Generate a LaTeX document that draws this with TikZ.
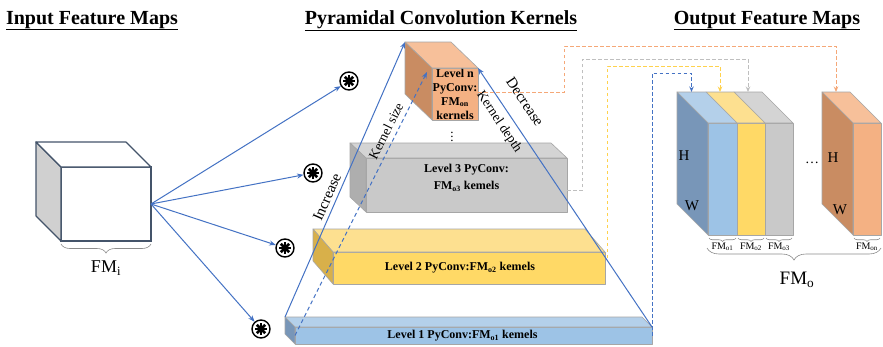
\documentclass[tikz,border=0pt]{standalone}
\usepackage{fontspec}
\setmainfont{Liberation Serif}
\usetikzlibrary{arrows.meta,decorations.pathreplacing,calc}

\definecolor{lineblue}{HTML}{4472C4}
\definecolor{cubeedge}{HTML}{44546A}
\definecolor{cubeside}{HTML}{D0D0D0}
\definecolor{orfront}{HTML}{F4B183}
\definecolor{ortop}{HTML}{F7C09A}
\definecolor{orside}{HTML}{C98C62}
\definecolor{grfront}{HTML}{C9C9C9}
\definecolor{grtop}{HTML}{D4D4D4}
\definecolor{grside}{HTML}{AEAEAE}
\definecolor{yefront}{HTML}{FFD966}
\definecolor{yetop}{HTML}{FDE090}
\definecolor{yeside}{HTML}{D8B04A}
\definecolor{blfront}{HTML}{9DC3E6}
\definecolor{bltop}{HTML}{B4D0EA}
\definecolor{blside}{HTML}{7896B8}
\definecolor{boxedge}{HTML}{A6A6A6}
\definecolor{dashor}{HTML}{F5A878}
\definecolor{dashgr}{HTML}{BFBFBF}
\definecolor{dashye}{HTML}{FFD24D}
\definecolor{bracegray}{HTML}{8C8C8C}

% top and left faces of a box whose front face is the node #2
\newcommand\slabtop[5][]{\filldraw[face,#1,fill=#5] (#2.north west) -- ++(-#3,-#4) -- ($(#2.north east)+(-#3,-#4)$) -- (#2.north east) -- cycle;}
\newcommand\slabside[5][]{\filldraw[face,#1,fill=#5] (#2.north west) -- ++(-#3,-#4) -- ($(#2.south west)+(-#3,-#4)$) -- (#2.south west) -- cycle;}

\tikzset{
  face/.style={draw=boxedge, line width=0.6pt, line join=round},
  front/.style={face, rectangle, inner sep=0pt, outer sep=0pt, anchor=north west,
    font=\fontsize{12}{14}\selectfont\bfseries, align=center},
  title/.style={font=\fontsize{20}{24}\selectfont\bfseries, anchor=base},
  feed/.style={draw=lineblue, line width=1pt, -{Stealth[length=6.5pt,width=5pt]}},
  route/.style={dash pattern=on 3.5pt off 2.5pt, line width=1pt, -{Stealth[length=5.5pt,width=4.5pt]}},
  slope/.style={font=\fontsize{15}{18}\selectfont, inner sep=1pt},
  slopesmall/.style={font=\fontsize{13.5}{15}\selectfont, inner sep=1pt},
  hw/.style={font=\fontsize{15}{18}\selectfont},
  fmsmall/.style={font=\fontsize{10}{12}\selectfont},
  gbrace/.style={draw=bracegray, line width=0.6pt, decorate},
  conv/.style={circle, draw, line width=1.4pt, minimum size=18pt, inner sep=0pt, fill=white,
    path picture={\foreach \a in {0,45,...,315}{\draw[line width=2.5pt] (path picture bounding box.center) -- ++(\a:6pt);}}},
}

\begin{document}
\begin{tikzpicture}[x=1pt,y=-1pt]
\useasboundingbox[fill=white] (0,0) rectangle (883,346);

% headings
\node[title] (t1) at (92,24) {\underline{Input Feature Maps}};
\node[title] (t2) at (441,24) {\underline{Pyramidal Convolution Kernels}};
\node[title] (t3) at (767,24) {\underline{Output Feature Maps}};

% input feature map cube
\node[draw=cubeedge, line width=1.2pt, fill=white, minimum width=90pt, minimum height=74pt,
      inner sep=0pt, outer sep=0pt, anchor=north west] (fmi) at (61,167) {};
\slabside[draw=cubeedge,line width=1.2pt]{fmi}{25}{25}{cubeside}
\slabtop[draw=cubeedge,line width=1.2pt]{fmi}{25}{25}{white}
\draw[gbrace, decoration={brace, mirror, amplitude=9pt}] (61,244) -- (151,244);
\node[font=\fontsize{18}{20}\selectfont] (fmilabel) at (106,268) {FM\textsubscript{i}};

% convolution operators
\node[conv] (c1) at (349,81) {};
\node[conv] (c2) at (313,173) {};
\node[conv] (c3) at (285,248) {};
\node[conv] (c4) at (261,329) {};
\foreach \c in {c1,c2,c3,c4} \draw[feed] (fmi.east) -- (\c);

% pyramid levels
\node[front, fill=blfront, minimum width=357pt, minimum height=17pt] (lvl1) at (295,327)
  {Level 1 PyConv:FM\textsubscript{o1} kemels\hspace*{22pt}};
\slabtop{lvl1}{10}{10}{bltop}
\slabside{lvl1}{10}{10}{blside}

\node[front, fill=yefront, minimum width=272pt, minimum height=32pt] (lvl2) at (333,252)
  {Level 2 PyConv:FM\textsubscript{o2} kemels\hspace*{18pt}};
\slabtop{lvl2}{20}{23}{yetop}
\slabside{lvl2}{20}{23}{yeside}

\node[front, fill=grfront, minimum width=201pt, minimum height=54pt] (lvl3) at (366,158)
  {Level 3 PyConv:\\[3pt]FM\textsubscript{o3} kemels\\[2pt]};
\slabtop{lvl3}{16}{15}{grtop}
\slabside{lvl3}{16}{15}{grside}

\node[front, fill=orfront, minimum width=46pt, minimum height=52pt] (lvln) at (432,68)
  {Level n\\PyConv:\\FM\textsubscript{on}\\kernels};
\slabtop{lvln}{27}{26}{ortop}
\slabside{lvln}{27}{26}{orside}

\node[font=\fontsize{13}{13}\selectfont, inner sep=0pt] (vdots) at (452,134) {$\vdots$};

% pyramid edges
\coordinate (lvlonebk) at ($(lvl1.north west)+(-10,-10)$);
\coordinate (lvlnbk) at ($(lvln.north west)+(-27,-26)$);
\draw[feed] (lvlonebk) -- (lvlnbk);
\draw[feed] (lvl1.north east) -- (lvln.north east);
\draw[feed, dash pattern=on 4pt off 3pt] (lvl1.west) -- ($(lvln.north west)+(-5,4)$);

\node[slope, rotate=66.3] (inc) at (327,197) {Increase};
\node[slopesmall, rotate=63.3] (ksize) at (386,131) {Kernel size};
\node[slopesmall, rotate=-56] (kdepth) at (499,122) {Kernel depth};
\node[slope, rotate=-56] (dec) at (525,102) {Decrease};

% output feature maps
\node[front, fill=grfront, minimum width=28pt, minimum height=112pt] (o3) at (765,123) {};
\slabtop{o3}{31}{31}{grtop}
\node[front, fill=yefront, minimum width=28pt, minimum height=112pt] (o2) at (737,123) {};
\slabtop{o2}{31}{31}{yetop}
\node[front, fill=blfront, minimum width=29pt, minimum height=112pt] (o1) at (708,123) {};
\slabtop{o1}{31}{31}{bltop}
\slabside{o1}{31}{31}{blside}
\node[front, fill=orfront, minimum width=28pt, minimum height=112pt] (on) at (853,123) {};
\slabtop{on}{31}{31}{ortop}
\slabside{on}{31}{31}{orside}

\node[hw] (h1) at (684,156) {H};
\node[hw] (w1) at (692,206) {W};
\node[hw] (h2) at (833,158) {H};
\node[hw] (w2) at (840,210) {W};
\node[font=\fontsize{14}{14}\selectfont] (hdots) at (812,163) {\dots};

\foreach \o/\s in {o1/o1,o2/o2,o3/o3,on/on}{
  \draw[gbrace, decoration={brace, mirror, amplitude=3.5pt}]
    ($(\o.south west)+(1,3)$) -- ($(\o.south east)+(-1,3)$);
  \node[fmsmall] at ($(\o.south)+(0,12)$) {FM\textsubscript{\s}};
}
\draw[gbrace, decoration={brace, mirror, amplitude=12pt}] (707,248) -- (881,248);
\node[font=\fontsize{19}{21}\selectfont] (fmolabel) at (797,280) {FM\textsubscript{o}};

% routes from each level to its output maps
\coordinate (o1in) at ($(o1.north)+(-31,-31)$);
\coordinate (o2in) at ($(o2.north)+(-31,-31)$);
\coordinate (o3in) at ($(o3.north)+(-31,-31)$);
\coordinate (onin) at ($(on.north)+(-31,-31)$);
\draw[route, draw=lineblue] (lvl1.east) |- ($(o1in)+(0,-19)$) -- (o1in);
\draw[route, draw=dashye] ($(lvl2.north east)+(2,6)$) |- ($(o2in)+(0,-26)$) -- (o2in);
\draw[route, draw=dashgr] ($(lvl3.east)+(0,5)$) -- ++(15,0) |- ($(o3in)+(0,-33)$) -- (o3in);
\draw[route, draw=dashor] ($(lvln.east)+(0,-2)$) -- ++(86,0) |- ($(onin)+(0,-46)$) -- (onin);
\end{tikzpicture}
\end{document}
